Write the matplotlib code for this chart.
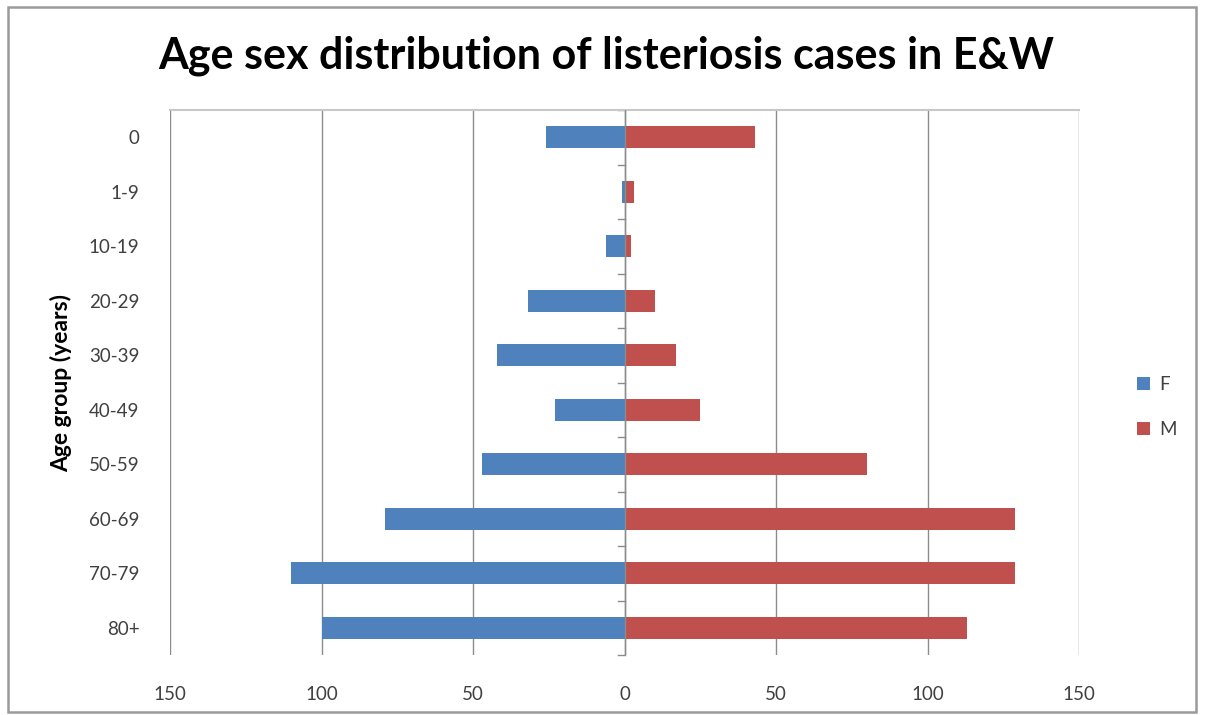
import numpy as np
import matplotlib.pyplot as plt
from matplotlib.patches import Rectangle
from matplotlib.ticker import FuncFormatter

age_groups = ["0", "1-9", "10-19", "20-29", "30-39", "40-49", "50-59", "60-69", "70-79", "80+"]
female = [26, 1, 6, 32, 42, 23, 47, 79, 110, 100]
male = [43, 3, 2, 10, 17, 25, 80, 129, 129, 113]

blue = "#4F81BD"
red = "#C0504D"
grid_col = "#8C8C8C"
txt_col = "#404040"

plt.rcParams['font.family'] = ['Lato', 'DejaVu Sans']

fig = plt.figure(figsize=(12.05, 7.15), dpi=100)
ax = fig.add_axes([0.1411, 0.0839, 0.7544, 0.7622])

y = np.arange(len(age_groups))
ax.barh(y, -np.array(female), height=0.4, color=blue, label="F", zorder=3)
ax.barh(y, male, height=0.4, color=red, label="M", zorder=3)

ax.set_xlim(-150, 150)
ax.set_ylim(len(age_groups) - 0.5, -0.5)
ax.set_xticks([-150, -100, -50, 0, 50, 100, 150])
ax.xaxis.set_major_formatter(FuncFormatter(lambda v, p: f"{abs(int(v))}"))
ax.tick_params(axis='x', length=0, pad=22, labelsize=13.5, labelcolor=txt_col)
ax.grid(axis='x', color=grid_col, linewidth=1, zorder=0)

# category labels on the left, minor ticks on the zero line between groups
ax.set_yticks(y)
ax.set_yticklabels(age_groups)
ax.tick_params(axis='y', length=0, pad=22, labelsize=13.5, labelcolor=txt_col)
for b in np.arange(-0.5, len(age_groups)):
    ax.plot([-2, 0], [b, b], color=grid_col, linewidth=1, zorder=2, clip_on=False)
ax.axvline(0, color=grid_col, linewidth=1, zorder=4)

for s in ['left', 'right', 'bottom']:
    ax.spines[s].set_visible(False)
ax.spines['top'].set_color('#C8C8C8')
ax.spines['top'].set_linewidth(1.5)

ax.set_ylabel("Age group (years)", fontsize=16.5, fontweight='bold', color='black', labelpad=12)

fig.suptitle("Age sex distribution of listeriosis cases in E&W", fontsize=31,
             fontweight='bold', x=0.503, y=0.95)

ax.legend(loc='center left', bbox_to_anchor=(1.045, 0.455), frameon=False, fontsize=13.5,
          handlelength=0.7, handleheight=0.7, handletextpad=0.5, labelspacing=1.5,
          labelcolor=txt_col)

# outer chart border
fig.patches.append(Rectangle((0.0066, 0.004), 0.9856, 0.986, transform=fig.transFigure,
                             fill=False, edgecolor='#9A9A9A', linewidth=1.8))

fig.savefig("out.png", dpi=100)
